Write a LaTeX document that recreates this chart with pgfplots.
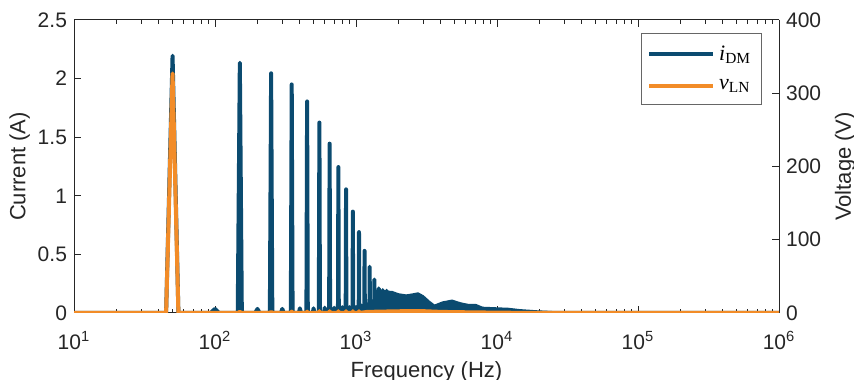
\documentclass[border=0pt]{standalone}
\usepackage{pgfplots}
\pgfplotsset{compat=1.18}
\usepackage{fontspec}
\setmainfont{Liberation Sans}
\newfontfamily\serifleg{Liberation Serif}
\definecolor{cblue}{HTML}{0B4B70}
\definecolor{corange}{HTML}{F28C28}
\definecolor{axgray}{HTML}{262626}

\pgfplotsset{
  myaxstyle/.style={
    scale only axis, width=352.5pt, height=146.5pt,
    tick align=inside,
    axis line style={axgray, line width=0.5pt},
    every tick/.style={axgray, line width=0.5pt},
    major tick length=3.5pt, minor tick length=2pt,
    tick label style={font=\fontsize{10.5}{12}\selectfont, text=axgray},
    label style={font=\fontsize{11}{13}\selectfont, text=axgray},
    /pgf/number format/assume math mode=true,
  }
}

\begin{document}
\begin{tikzpicture}
\begin{axis}[myaxstyle, name=ax1,
  xmode=log, xmin=10, xmax=1e6,
  axis y line*=left,
  ymin=0, ymax=2.5,
  ytick={0,0.5,1,1.5,2,2.5},
  yticklabels={0,0.5,1,1.5,2,2.5},
  xtick={1e1,1e2,1e3,1e4,1e5,1e6},
  xticklabels={10\textsuperscript{1},10\textsuperscript{2},10\textsuperscript{3},10\textsuperscript{4},10\textsuperscript{5},10\textsuperscript{6}},
  xticklabel style={yshift=-5.5pt},
  xlabel={Frequency (Hz)},
  ylabel={Current (A)},
  xlabel style={yshift=1pt},
  ylabel style={yshift=-3pt},
]
% broadband content of i_DM
\addplot[cblue, fill=cblue, line width=0.8pt, line join=round, forget plot] coordinates {
(900,0) (900,0.03) (1000,0.045) (1100,0.06) (1200,0.08) (1300,0.10) (1400,0.14)
(1470,0.18) (1600,0.185) (1800,0.182) (2000,0.162) (2270,0.152) (2500,0.16)
(2750,0.17) (3000,0.145) (3300,0.10) (3600,0.065) (4100,0.092) (4800,0.108)
(5500,0.085) (6200,0.072) (7100,0.07) (7900,0.047) (9900,0.042) (12000,0.038)
(14400,0.027) (18900,0.017) (24000,0.011) (29000,0.005) (50000,0.003) (100000,0.002) (100000,0)
} \closedcycle;
% harmonic lines of i_DM
\addplot[cblue, line width=2pt, line join=round] coordinates {
(10,0) (45,0) (50,2.195) (55,0)
(93,0) (100,0.035) (107,0)
(145,0) (150,2.135) (155,0)
(193,0) (200,0.035) (207,0)
(245,0) (250,2.045) (255,0)
(293,0) (300,0.035) (307,0)
(345,0) (350,1.95) (355,0)
(393,0) (400,0.04) (407,0)
(445,0) (450,1.805) (455,0)
(494,0) (500,0.04) (506,0)
(545,0) (550,1.625) (555,0)
(594,0) (600,0.045) (606,0)
(645,0) (650,1.445) (655,0)
(695,0) (700,0.045) (705,0)
(745,0) (750,1.245) (755,0)
(795,0) (800,0.05) (805,0)
(845,0) (850,1.055) (855,0)
(895,0) (900,0.05) (905,0)
(945,0) (950,0.865) (955,0)
(995,0) (1000,0.05) (1005,0)
(1045,0) (1050,0.69) (1055,0)
(1095,0) (1100,0.06) (1105,0)
(1145,0) (1150,0.53) (1155,0)
(1195,0) (1200,0.07) (1205,0)
(1245,0) (1250,0.395) (1255,0)
(1295,0) (1300,0.09) (1305,0)
(1345,0) (1350,0.285) (1355,0)
(1395,0) (1400,0.11) (1405,0)
(1445,0) (1450,0.21) (1455,0)
(1545,0) (1550,0.195) (1555,0)
(1645,0) (1650,0.19) (1655,0)
(2000,0) (1e6,0)
};
\end{axis}
\begin{axis}[myaxstyle,
  xmode=log, xmin=10, xmax=1e6,
  axis y line*=right, axis x line=none,
  ymin=0, ymax=400,
  ytick={0,100,200,300,400},
  yticklabels={0,100,200,300,400},
  ylabel={Voltage (V)},
  ylabel style={yshift=0pt},
  legend cell align=left,
  legend style={at={(1,1)}, anchor=north east, xshift=-8.7pt, yshift=-6.5pt,
    draw=gray!80!black, line width=0.5pt, fill=white,
    font=\fontsize{11}{13}\selectfont, inner xsep=3pt, inner ysep=4pt, row sep=4pt},
  legend image code/.code={\draw[#1] (0pt,0pt) -- (32pt,0pt);},
]
\addlegendimage{cblue, line width=2pt}
\addlegendentry{{\serifleg\textit{i}\textsubscript{DM}}}
\addplot[corange, line width=2pt, line join=round] coordinates {
(10,0) (45,0) (50,327) (55,0)
(145,0) (150,1.5) (155,0)
(245,0) (250,1.5) (255,0)
(345,0) (350,2) (355,0)
(445,0) (450,2) (455,0)
(545,0) (550,2.5) (555,0)
(645,0) (650,2.5) (655,0)
(745,0) (750,2.5) (755,0)
(845,0) (850,2.5) (855,0)
(945,0) (950,2.5) (955,0)
(1045,0) (1050,2.5) (1055,0)
(1200,1.5) (1600,2) (2200,2.5) (3000,2.5) (4000,1.5) (6000,1) (10000,0.5) (20000,0) (1e6,0)
};
\addlegendentry{{\serifleg\textit{v}\textsubscript{LN}}}
\end{axis}
\pgfresetboundingbox
\path[use as bounding box] ([xshift=-37pt,yshift=-33pt]ax1.south west) rectangle ([xshift=37.5pt,yshift=10pt]ax1.north east);
\end{tikzpicture}
\end{document}
